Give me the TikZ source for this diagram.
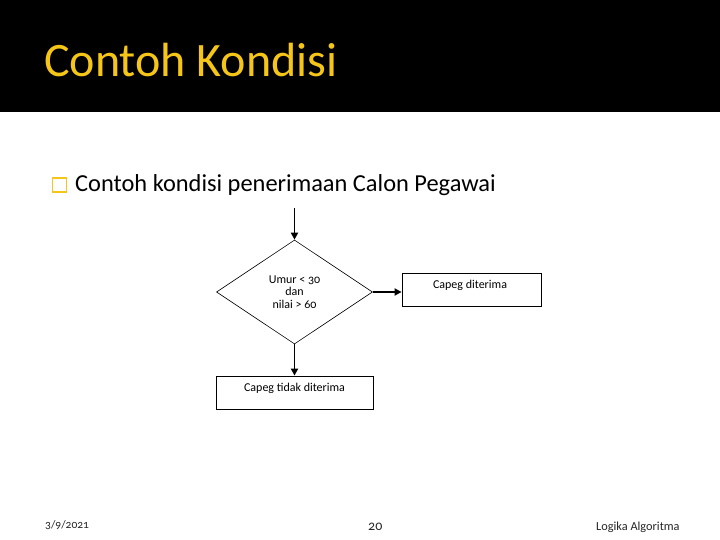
\documentclass[tikz,border=0pt]{standalone}
\usepackage{fontspec}
\setmainfont{Carlito}[Numbers=OldStyle]
\usetikzlibrary{shapes.geometric,arrows.meta}
\definecolor{gold}{HTML}{F5C518}
\tikzset{
  box/.style={draw=black, line width=0.8pt, minimum width=139pt, minimum height=33pt, inner sep=0pt},
  dec/.style={draw=black, line width=0.6pt, diamond, aspect=1.5, minimum width=156pt, minimum height=104pt, inner sep=0pt},
  lbl/.style={font=\fontsize{12}{12.5}\selectfont, inner sep=0pt, align=center},
  flow/.style={line width=1.8pt, -{Triangle[length=7pt,width=7pt]}},
  foot/.style={font=\fontsize{11.5}{13}\selectfont, anchor=base west, inner sep=0pt, text=black!85}
}
\begin{document}
\begin{tikzpicture}[x=1pt,y=-1pt]
\useasboundingbox (0,0) rectangle (720,540);
\fill[white] (0,0) rectangle (720,540);
\fill[black] (0,0) rectangle (720,112);
\node[anchor=base west, inner sep=0pt, text=gold, font=\fontsize{48}{56}\selectfont] (title) at (44,77) {Contoh Kondisi};
\node[draw=gold, line width=1.4pt, minimum width=14pt, minimum height=14pt, inner sep=0pt] (bul) at (59.5,185) {};
\node[anchor=base west, inner sep=0pt, font=\fontsize{24.4}{28}\selectfont] (sub) at (75,192) {Contoh kondisi penerimaan Calon Pegawai};
\coordinate (start) at (294.5,208);
\node[dec] (d) at (294.5,292) {};
\node[lbl] (dt) at (294.5,292) {Umur < 30\\dan\\nilai > 60};
\node[box] (yes) at (471.5,289.5) {};
\node[lbl] (yest) at (470,285.5) {Capeg diterima};
\node[box, minimum width=157pt] (no) at (294.5,392.5) {};
\node[lbl] (not) at (294.5,388) {Capeg tidak diterima};
\draw[flow] (start) -- (d.north);
\draw[flow] (d.east) -- (d.east -| yes.west);
\draw[flow] (d.south) -- (no.north);
\node[foot] (f1) at (45,528) {3/9/2021};
\node[foot, font=\fontsize{14}{16}\selectfont] (f2) at (368,530) {20};
\node[foot, font=\fontsize{12.3}{14}\selectfont] (f3) at (596,530) {Logika Algoritma};
\end{tikzpicture}
\end{document}
